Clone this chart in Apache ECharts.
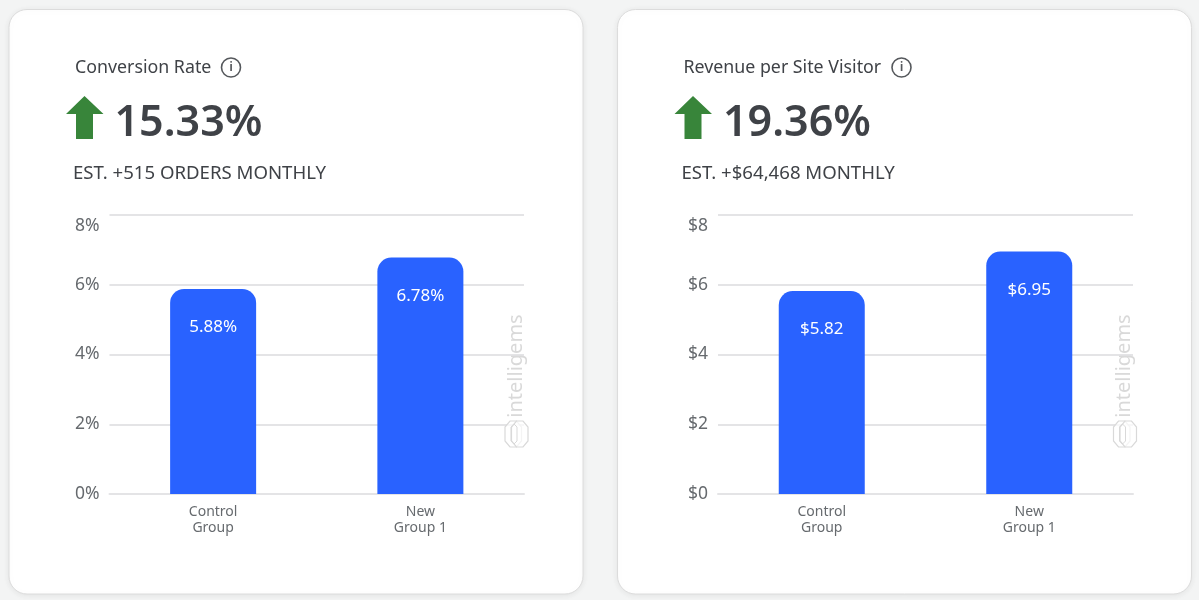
<!DOCTYPE html>
<html><head><meta charset="utf-8">
<style>html,body{margin:0;padding:0;background:#f3f4f4;}#c{width:1199px;height:600px;}</style>
<script src="https://cdn.jsdelivr.net/npm/echarts@6/dist/echarts.min.js"></script>
</head><body><div id="c"></div>
<script>
const categories = ['Control\nGroup', 'New\nGroup 1'];
const conversionValues = [5.88, 6.78];
const revenueValues = [5.82, 6.95];
const conversionTicks = ['0%', '2%', '4%', '6%', '8%'];
const revenueTicks = ['$0', '$2', '$4', '$6', '$8'];
const titles = ['Conversion Rate', 'Revenue per Site Visitor'];
const lifts = ['15.33%', '19.36%'];
const estimates = ['EST. +515 ORDERS MONTHLY', 'EST. +$64,468 MONTHLY'];
const FONT = 'Noto Sans';
const DX = 608.5;

function panelGraphics(i) {
  const dx = i * DX;
  const infoX = i === 0 ? 231 : 293 + DX;
  const els = [
    {type:'rect', z:-10, silent:true, shape:{x:9+dx,y:9.5,width:574,height:584.5,r:18},
     style:{fill:'#fff',stroke:'#dcdcdc',lineWidth:1,shadowBlur:6,shadowColor:'rgba(0,0,0,0.07)',shadowOffsetY:1}},
    {type:'text', z:5, x:75+dx, y:68, style:{text:titles[i],font:'400 17.8px "'+FONT+'"',fill:'#3f4247',textVerticalAlign:'middle'}},
    {type:'circle', z:5, shape:{cx:infoX,cy:67.5,r:9.5}, style:{fill:'none',stroke:'#55585c',lineWidth:1.6}},
    {type:'text', z:5, x:infoX, y:67.5, style:{text:'i',font:'600 13px "'+FONT+'"',fill:'#55585c',textAlign:'center',textVerticalAlign:'middle'}},
    {type:'polygon', z:5, shape:{points:[[84.5+dx,96],[103.5+dx,114],[93+dx,114],[93+dx,139],[76+dx,139],[76+dx,114],[66+dx,114]]}, style:{fill:'#38853a'}},
    {type:'text', z:5, x:114.5+dx, y:124, style:{text:lifts[i],font:'600 43px "'+FONT+'"',fill:'#3f4247',textVerticalAlign:'middle'}},
    {type:'text', z:5, x:73+dx, y:174, style:{text:estimates[i],font:'400 18.6px "'+FONT+'"',fill:'#3f4247',textVerticalAlign:'middle'}},
    {type:'text', z:20, x:516+dx, y:366, rotation:Math.PI/2,
     style:{text:'intelligems',font:'400 20px "'+FONT+'"',fill:'#d9d9d9',textAlign:'center',textVerticalAlign:'middle'}},
  ];
  [[0],[6.5]].forEach(([o])=>{
    const l=505+dx+o, r=l+16.5, t=421, b=447;
    els.push({type:'polygon', z:20, shape:{points:[[l+5,t],[r-5,t],[r,t+6],[r,b-6],[r-5,b],[l+5,b],[l,b-6],[l,t+6]]}, style:{fill:'rgba(255,255,255,0.7)',stroke:'#d9d9d9',lineWidth:1.2}});
  });
  els.push({type:'polygon', z:21, shape:{points:[[511+dx,427],[514+dx,424],[517+dx,427],[517+dx,441],[514+dx,444],[511+dx,441]]}, style:{fill:'none',stroke:'#d9d9d9',lineWidth:1}});
  return els;
}

function axes(i, ticks) {
  return {
    x:{type:'category', gridIndex:i, data:categories,
       axisLine:{lineStyle:{color:'#e4e4e6',width:2}}, axisTick:{show:false},
       axisLabel:{color:'#666a6e',fontFamily:FONT,fontSize:14,lineHeight:16,margin:10,interval:0}},
    y:{type:'value', gridIndex:i, min:0, max:8, interval:2,
       axisLine:{show:false}, axisTick:{show:false},
       splitLine:{lineStyle:{color:'#e4e4e6',width:2}},
       axisLabel:{color:'#666a6e',fontFamily:FONT,fontSize:17.5,margin:10,padding:[2,0,0,0],verticalAlignMaxLabel:'top',
         formatter:(v)=>ticks[v/2]}}
  };
}
const a0 = axes(0, conversionTicks), a1 = axes(1, revenueTicks);
function bars(i, values, fmt) {
  return {type:'bar', xAxisIndex:i, yAxisIndex:i, data:values, barWidth:86, z:3,
    itemStyle:{color:'#2962ff',borderRadius:[14,14,0,0]},
    label:{show:true,position:'insideTop',distance:30,color:'#fff',fontFamily:FONT,fontSize:17,formatter:p=>fmt(p.value)}};
}
const chart = echarts.init(document.getElementById('c'), null, {renderer:'canvas'});
chart.setOption({
  animation:false,
  backgroundColor:'#f3f4f4',
  grid:[{left:109.5,width:414.5,top:215,height:279},{left:718,width:415,top:215,height:279}],
  xAxis:[a0.x,a1.x], yAxis:[a0.y,a1.y],
  series:[bars(0,conversionValues,v=>v.toFixed(2)+'%'),bars(1,revenueValues,v=>'$'+v.toFixed(2))],
  graphic:{elements:[...panelGraphics(0),...panelGraphics(1)]}
});
</script></body></html>
